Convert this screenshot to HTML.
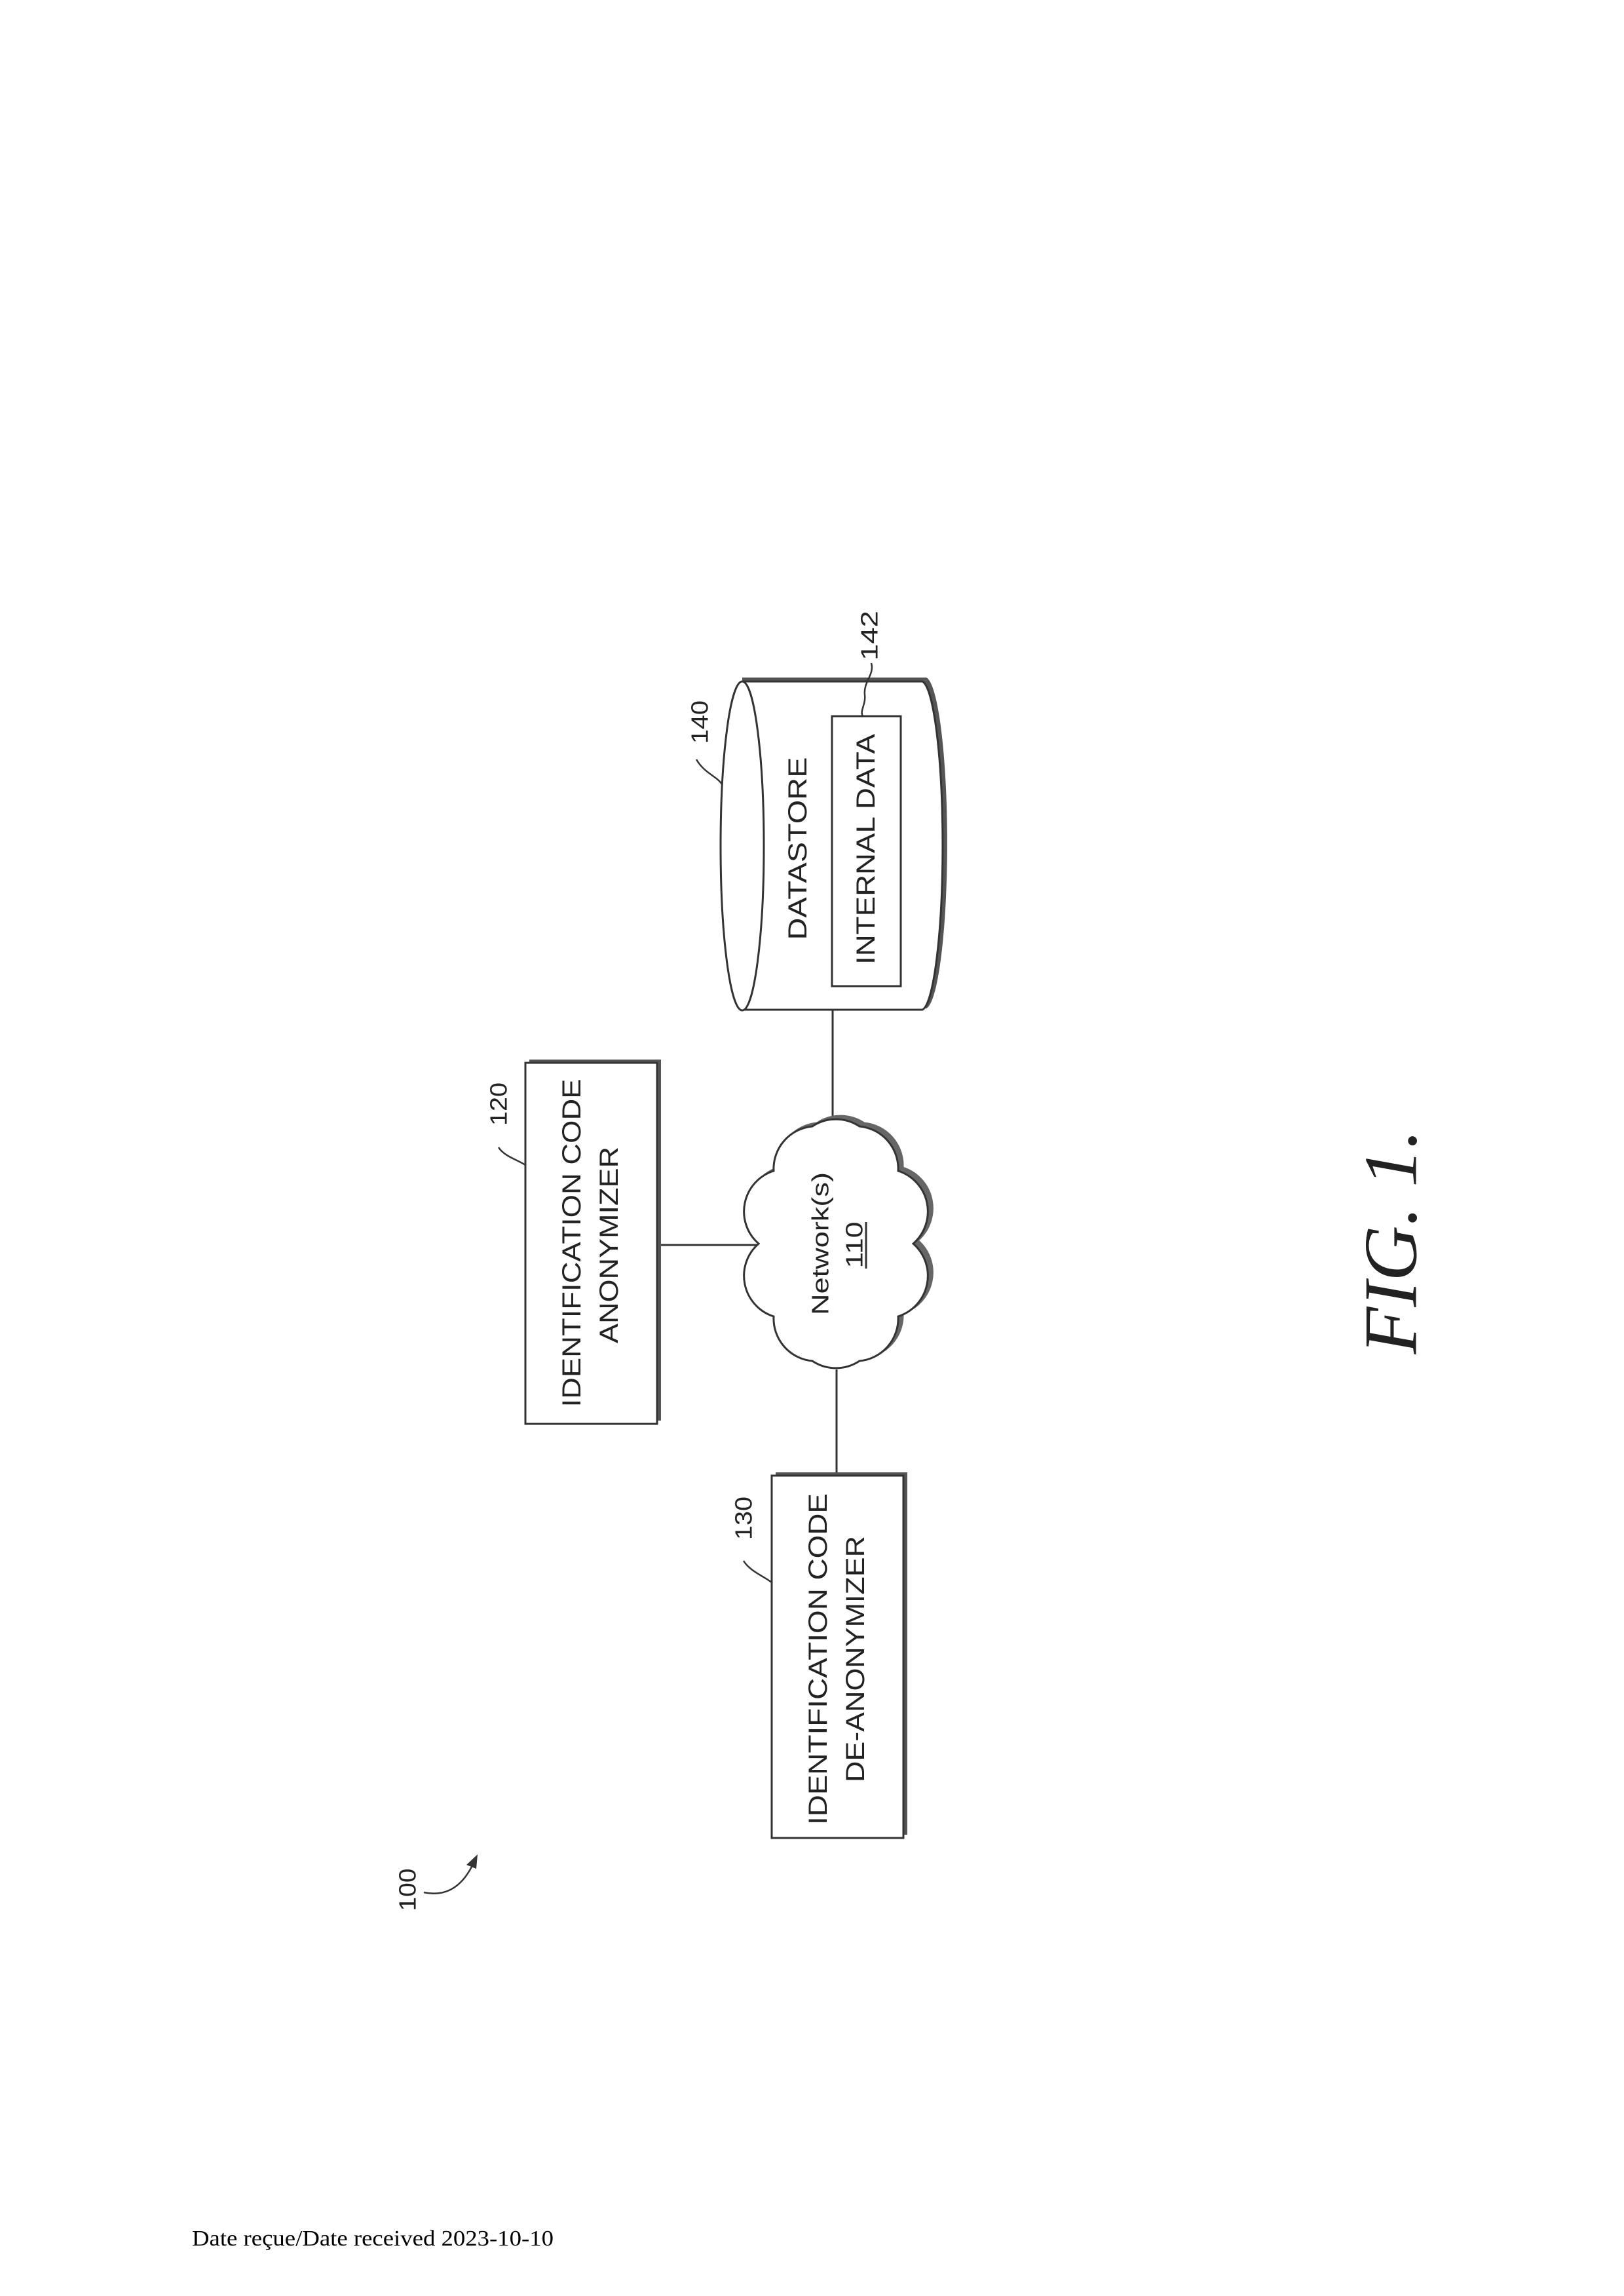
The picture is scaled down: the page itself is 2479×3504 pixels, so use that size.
<!DOCTYPE html>
<html><head><meta charset="utf-8"><style>
html,body{margin:0;padding:0;background:#fff}
svg{display:block}
text{font-family:"Liberation Sans",Arial,sans-serif;fill:#222}
</style></head><body>
<svg width="2479" height="3504" viewBox="0 0 2479 3504" xmlns="http://www.w3.org/2000/svg">
<rect width="2479" height="3504" fill="#fff"/>
<g stroke="#333" stroke-width="3" fill="none">
  <!-- connectors -->
  <line x1="1008" y1="1900" x2="1156" y2="1900"/>
  <line x1="1271" y1="1541" x2="1271" y2="1710"/>
  <line x1="1277" y1="2090" x2="1277" y2="2252"/>
</g>
<!-- anonymizer box -->
<rect x="808" y="1617" width="201" height="551" fill="#555"/>
<rect x="802" y="1622" width="201" height="551" fill="#fff" stroke="#333" stroke-width="3"/>
<!-- de-anonymizer box -->
<rect x="1184" y="2247" width="201" height="553" fill="#555"/>
<rect x="1178" y="2252" width="201" height="553" fill="#fff" stroke="#333" stroke-width="3"/>
<!-- cloud -->
<g transform="translate(7,-5)">
<path d="M1394,1898 A65,65 0 0 1 1371,2009 A65,65 0 0 1 1312,2077 A65,65 0 0 1 1240,2077 A65,65 0 0 1 1181,2009 A65,65 0 0 1 1158,1898 A65,65 0 0 1 1181,1787 A65,65 0 0 1 1240,1719 A65,65 0 0 1 1312,1719 A65,65 0 0 1 1371,1787 A65,65 0 0 1 1394,1898 Z" fill="#666" stroke="#666" stroke-width="3"/>
</g>
<path d="M1394,1898 A65,65 0 0 1 1371,2009 A65,65 0 0 1 1312,2077 A65,65 0 0 1 1240,2077 A65,65 0 0 1 1181,2009 A65,65 0 0 1 1158,1898 A65,65 0 0 1 1181,1787 A65,65 0 0 1 1240,1719 A65,65 0 0 1 1312,1719 A65,65 0 0 1 1371,1787 A65,65 0 0 1 1394,1898 Z" fill="#fff" stroke="#333" stroke-width="3"/>
<!-- cylinder -->
<path d="M1133,1034 L1414,1034 A34,253 0 0 1 1414,1539 L1133,1539 Z" fill="#555"/>
<path d="M1133,1040 L1408,1040 A33,251 0 0 1 1408,1541 L1133,1541" fill="#fff" stroke="#333" stroke-width="3"/>
<ellipse cx="1133" cy="1291" rx="33" ry="251" fill="#fff" stroke="#333" stroke-width="3"/>
<rect x="1270" y="1093" width="105" height="412" fill="none" stroke="#333" stroke-width="3"/>
<!-- leaders -->
<g stroke="#333" stroke-width="2.5" fill="none">
  <path d="M761,1751 C770,1765 790,1770 802,1778"/>
  <path d="M1135,2382 C1145,2398 1165,2405 1178,2415"/>
  <path d="M1063,1159 C1075,1180 1095,1185 1102,1197"/>
  <path d="M1330,1012 C1335,1030 1318,1040 1320,1060 C1322,1075 1312,1085 1317,1093"/>
  <path d="M647,2888 C680,2895 705,2880 722,2845"/>
</g>
<polygon points="729,2830 712,2846 727,2852" fill="#333"/>
<!-- texts (rotated) -->
<g font-size="40">
<text transform="translate(873,1897) rotate(-90)" text-anchor="middle" dominant-baseline="central" textLength="501" lengthAdjust="spacingAndGlyphs">IDENTIFICATION CODE</text>
<text transform="translate(930,1900) rotate(-90)" text-anchor="middle" dominant-baseline="central" textLength="300" lengthAdjust="spacingAndGlyphs">ANONYMIZER</text>
<text transform="translate(1249,2532) rotate(-90)" text-anchor="middle" dominant-baseline="central" textLength="506" lengthAdjust="spacingAndGlyphs">IDENTIFICATION CODE</text>
<text transform="translate(1306,2532) rotate(-90)" text-anchor="middle" dominant-baseline="central" textLength="376" lengthAdjust="spacingAndGlyphs">DE-ANONYMIZER</text>
<text transform="translate(1218,1295) rotate(-90)" text-anchor="middle" dominant-baseline="central" textLength="279" lengthAdjust="spacingAndGlyphs">DATASTORE</text>
<text transform="translate(1322,1296) rotate(-90)" text-anchor="middle" dominant-baseline="central" textLength="352" lengthAdjust="spacingAndGlyphs">INTERNAL DATA</text>
</g>
<g font-size="36">
<text transform="translate(1252,1898) rotate(-90)" text-anchor="middle" dominant-baseline="central" textLength="218" lengthAdjust="spacingAndGlyphs">Network(s)</text>
<text transform="translate(1304,1900) rotate(-90)" text-anchor="middle" dominant-baseline="central" textLength="71" lengthAdjust="spacingAndGlyphs">110</text>
<text transform="translate(761,1685) rotate(-90)" text-anchor="middle" dominant-baseline="central" textLength="66" lengthAdjust="spacingAndGlyphs">120</text>
<text transform="translate(1135,2317) rotate(-90)" text-anchor="middle" dominant-baseline="central" textLength="66" lengthAdjust="spacingAndGlyphs">130</text>
<text transform="translate(1068,1102) rotate(-90)" text-anchor="middle" dominant-baseline="central" textLength="66" lengthAdjust="spacingAndGlyphs">140</text>
<text transform="translate(1327,970) rotate(-90)" text-anchor="middle" dominant-baseline="central" textLength="76" lengthAdjust="spacingAndGlyphs">142</text>
<text transform="translate(622,2884) rotate(-90)" text-anchor="middle" dominant-baseline="central" textLength="65" lengthAdjust="spacingAndGlyphs">100</text>
</g>
<line x1="1322" y1="1865" x2="1322" y2="1936" stroke="#333" stroke-width="3"/>
<text transform="translate(2123,1895) rotate(-90)" text-anchor="middle" dominant-baseline="central" font-size="115" font-style="italic" textLength="343" lengthAdjust="spacingAndGlyphs" style="font-family:'Liberation Serif','Times New Roman',serif">FIG. 1.</text>
<text x="293" y="3427" font-size="34" textLength="552" lengthAdjust="spacingAndGlyphs" style="font-family:'Liberation Serif','Times New Roman',serif;fill:#000">Date reçue/Date received 2023-10-10</text>
</svg>
</body></html>
